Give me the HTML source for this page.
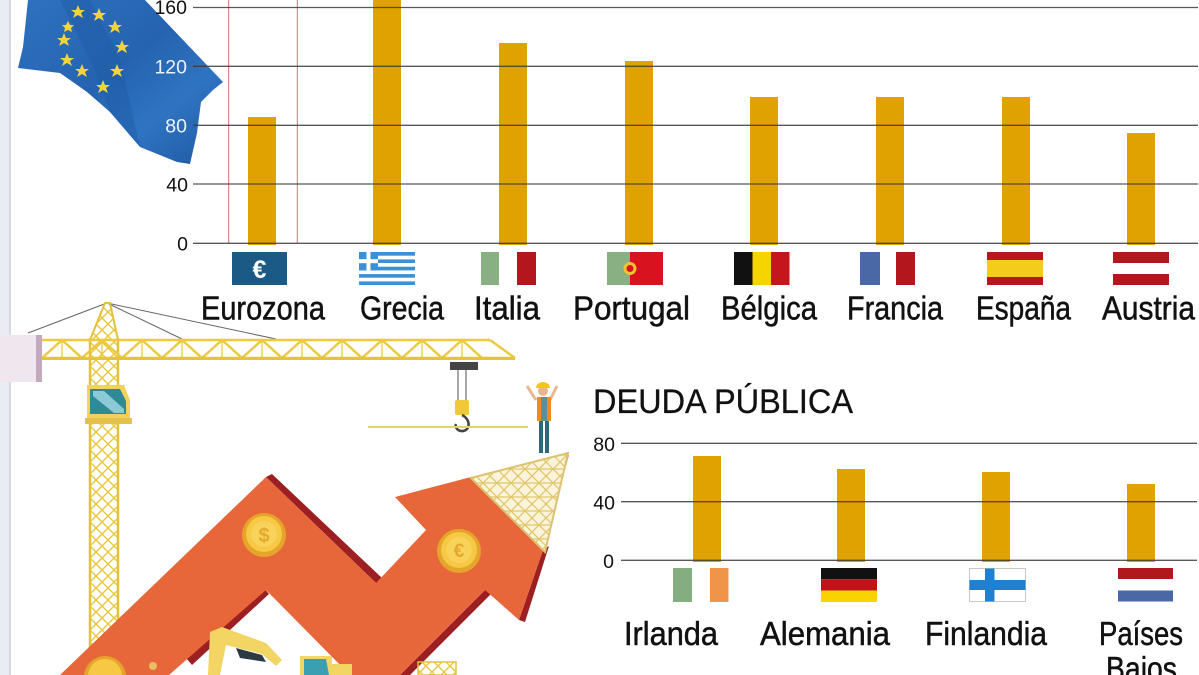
<!DOCTYPE html>
<html>
<head>
<meta charset="utf-8">
<style>
html,body{margin:0;padding:0;background:#fff;}
svg{display:block;}
text{font-family:"Liberation Sans",sans-serif;}
</style>
</head>
<body>
<svg width="1199" height="675" viewBox="0 0 1199 675" xmlns="http://www.w3.org/2000/svg">
<defs>
  <linearGradient id="flagG" x1="0" y1="0" x2="1" y2="1">
    <stop offset="0" stop-color="#2f72c0"/>
    <stop offset="0.45" stop-color="#2563b0"/>
    <stop offset="0.7" stop-color="#2f74c2"/>
    <stop offset="1" stop-color="#1d57a0"/>
  </linearGradient>
  <pattern id="lat" width="12" height="12" patternUnits="userSpaceOnUse">
    <path d="M0 0L12 12M12 0L0 12" stroke="#e8c73c" stroke-width="1.4" fill="none"/>
  </pattern>
  <pattern id="lat2" width="14" height="14" patternUnits="userSpaceOnUse">
    <path d="M0 0L14 14M14 0L0 14M0 7H14" stroke="#e2c66a" stroke-width="1.3" fill="none"/>
  </pattern>
</defs>

<rect x="0" y="0" width="1199" height="675" fill="#fff"/>

<!-- left page edge strip -->
<rect x="0" y="0" width="11" height="675" fill="#e9edf3"/>
<rect x="9" y="0" width="2" height="675" fill="#d5dbe4"/>

<!-- EU flag -->
<polygon points="28,0 145,0 223,82 213,90 201,102 197,133 190,164 177,162 140,147 110,112 87,92 60,73 18,68 23,47 28,0" fill="url(#flagG)"/>
<polygon points="60,0 90,0 120,60 140,147 110,112 95,70" fill="#1f5ba6" opacity="0.45"/>
<g fill="#f4d43c">
  <polygon points="78,5 80,10 85,10 81,13 83,18 78,15 73,18 75,13 71,10 76,10"/>
  <polygon points="99,8 101,13 106,13 102,16 104,21 99,18 94,21 96,16 92,13 97,13"/>
  <polygon points="115,20 117,25 122,25 118,28 120,33 115,30 110,33 112,28 108,25 113,25"/>
  <polygon points="122,40 124,45 129,45 125,48 127,53 122,50 117,53 119,48 115,45 120,45"/>
  <polygon points="117,64 119,69 124,69 120,72 122,77 117,74 112,77 114,72 110,69 115,69"/>
  <polygon points="103,80 105,85 110,85 106,88 108,93 103,90 98,93 100,88 96,85 101,85"/>
  <polygon points="82,64 84,69 89,69 85,72 87,77 82,74 77,77 79,72 75,69 80,69"/>
  <polygon points="67,53 69,58 74,58 70,61 72,66 67,63 62,66 64,61 60,58 65,58"/>
  <polygon points="64,33 66,38 71,38 67,41 69,46 64,43 59,46 61,41 57,38 62,38"/>
  <polygon points="68,21 70,25 74,25 71,28 72,32 68,30 64,32 65,28 62,25 66,25"/>
</g>

<!-- ===== TOP CHART ===== -->
<line x1="228.7" y1="0" x2="228.7" y2="243" stroke="#e06a78" stroke-width="1"/>
<line x1="297.3" y1="0" x2="297.3" y2="243" stroke="#e06a78" stroke-width="1"/>

<g fill="#e0a200">
  <rect x="248" y="117" width="28" height="128"/>
  <rect x="373" y="0" width="28" height="245"/>
  <rect x="499" y="43" width="28" height="202"/>
  <rect x="625" y="61" width="28" height="184"/>
  <rect x="750" y="97" width="28" height="148"/>
  <rect x="876" y="97" width="28" height="148"/>
  <rect x="1002" y="97" width="28" height="148"/>
  <rect x="1127" y="133" width="28" height="112"/>
</g>

<g stroke="#3c3c3c" stroke-width="1.3" opacity="0.85">
  <line x1="193" y1="7.5" x2="1198" y2="7.5"/>
  <line x1="193" y1="66.3" x2="1198" y2="66.3"/>
  <line x1="193" y1="125.3" x2="1198" y2="125.3"/>
  <line x1="193" y1="184" x2="1198" y2="184"/>
  <line x1="193" y1="243.3" x2="1198" y2="243.3"/>
</g>

<g font-size="19.5" text-anchor="end">
  <text x="187" y="14" fill="#111">160</text>
  <text x="187" y="73.5" fill="#eef3fa">120</text>
  <text x="187" y="132.7" fill="#eef3fa">80</text>
  <text x="188" y="191.3" fill="#111">40</text>
  <text x="188" y="250.7" fill="#111">0</text>
</g>

<rect x="232" y="252" width="55" height="33" fill="#1b5a85"/>
<text x="259.5" y="278" font-size="25" font-weight="bold" fill="#fff" text-anchor="middle">€</text>

<g>
  <rect x="359" y="252" width="56" height="33" fill="#3b90d8"/>
  <g fill="#fff">
    <rect x="359" y="255.7" width="56" height="3.7"/>
    <rect x="359" y="263" width="56" height="3.7"/>
    <rect x="359" y="270.4" width="56" height="3.7"/>
    <rect x="359" y="277.7" width="56" height="3.7"/>
  </g>
  <rect x="359" y="252" width="19" height="18.4" fill="#3b90d8"/>
  <rect x="366.5" y="252" width="4" height="18.4" fill="#fff"/>
  <rect x="359" y="259.2" width="19" height="4" fill="#fff"/>
</g>
<rect x="481" y="252" width="18" height="33" fill="#88b083"/>
<rect x="517" y="252" width="19" height="33" fill="#b3161c"/>
<rect x="607" y="252" width="23" height="33" fill="#88b083"/>
<rect x="630" y="252" width="33" height="33" fill="#d8131f"/>
<circle cx="630" cy="268.5" r="6.5" fill="#f1c232"/>
<circle cx="630" cy="268.5" r="3.5" fill="#d8131f"/>
<rect x="734" y="252" width="18.5" height="33" fill="#111"/>
<rect x="752.5" y="252" width="18.5" height="33" fill="#f6d400"/>
<rect x="771" y="252" width="18.5" height="33" fill="#c4161c"/>
<rect x="860" y="252" width="20" height="33" fill="#4a68a6"/>
<rect x="896" y="252" width="19" height="33" fill="#b3161c"/>
<rect x="987" y="252" width="56" height="33" fill="#b8161c"/>
<rect x="987" y="260" width="56" height="17" fill="#f4cc1c"/>
<rect x="1113" y="252" width="56" height="11" fill="#b3161c"/>
<rect x="1113" y="274" width="56" height="11" fill="#b3161c"/>

<g font-size="33" fill="#111" stroke="#111" stroke-width="0.5">
  <text x="201" y="319.5" textLength="124" lengthAdjust="spacingAndGlyphs">Eurozona</text>
  <text x="360" y="319.5" textLength="84" lengthAdjust="spacingAndGlyphs">Grecia</text>
  <text x="474" y="319.5" textLength="66" lengthAdjust="spacingAndGlyphs">Italia</text>
  <text x="573" y="319.5" textLength="117" lengthAdjust="spacingAndGlyphs">Portugal</text>
  <text x="721" y="319.5" textLength="96" lengthAdjust="spacingAndGlyphs">Bélgica</text>
  <text x="847" y="319.5" textLength="96" lengthAdjust="spacingAndGlyphs">Francia</text>
  <text x="976" y="319.5" textLength="95" lengthAdjust="spacingAndGlyphs">España</text>
  <text x="1102" y="319.5" textLength="93" lengthAdjust="spacingAndGlyphs">Austria</text>
</g>

<!-- ===== BOTTOM CHART ===== -->
<text x="593" y="413" font-size="34" fill="#111" stroke="#111" stroke-width="0.3" textLength="260" lengthAdjust="spacingAndGlyphs">DEUDA PÚBLICA</text>

<g fill="#e0a200">
  <rect x="693" y="456" width="28" height="106"/>
  <rect x="837" y="469" width="28" height="93"/>
  <rect x="982" y="472" width="28" height="90"/>
  <rect x="1127" y="484" width="28" height="78"/>
</g>
<g stroke="#3c3c3c" stroke-width="1.3" opacity="0.85">
  <line x1="621" y1="443.3" x2="1197" y2="443.3"/>
  <line x1="621" y1="501.7" x2="1197" y2="501.7"/>
  <line x1="621" y1="560.3" x2="1197" y2="560.3"/>
</g>
<g font-size="19.5" text-anchor="end" fill="#111">
  <text x="615" y="451">80</text>
  <text x="615" y="509.5">40</text>
  <text x="614" y="568">0</text>
</g>

<rect x="673" y="568" width="19" height="34" fill="#85ae80"/>
<rect x="710" y="568" width="18.5" height="34" fill="#ef9448"/>
<rect x="821" y="568" width="56" height="11.3" fill="#111"/>
<rect x="821" y="579.3" width="56" height="11.3" fill="#c0141b"/>
<rect x="821" y="590.6" width="56" height="11.4" fill="#f8d300"/>
<rect x="969.5" y="568.5" width="56" height="33" fill="#fff" stroke="#c8c8c8" stroke-width="1"/>
<rect x="985" y="568.5" width="9.5" height="33" fill="#1f80d0"/>
<rect x="969.5" y="580" width="56" height="10" fill="#1f80d0"/>
<rect x="1118" y="568" width="55" height="11" fill="#b0181e"/>
<rect x="1118" y="590.5" width="55" height="11" fill="#4a68a6"/>

<g font-size="33" fill="#111" stroke="#111" stroke-width="0.5">
  <text x="624" y="645" textLength="94" lengthAdjust="spacingAndGlyphs">Irlanda</text>
  <text x="760" y="645" textLength="130" lengthAdjust="spacingAndGlyphs">Alemania</text>
  <text x="925" y="645" textLength="122" lengthAdjust="spacingAndGlyphs">Finlandia</text>
  <text x="1099" y="645" textLength="84" lengthAdjust="spacingAndGlyphs">Países</text>
  <text x="1106" y="680" textLength="71" lengthAdjust="spacingAndGlyphs">Bajos</text>
</g>

<!-- ===== ILLUSTRATION ===== -->
<g stroke="#666" stroke-width="1" fill="none">
  <line x1="107" y1="303" x2="28" y2="333"/>
  <line x1="107" y1="303" x2="182" y2="339"/>
  <line x1="107" y1="303" x2="276" y2="339"/>
</g>
<rect x="0" y="335" width="40" height="47" fill="#efe7ed"/>
<rect x="36" y="335" width="6" height="47" fill="#c3a9bb"/>

<rect x="90" y="338" width="28" height="320" fill="url(#lat)"/>
<line x1="90" y1="338" x2="90" y2="658" stroke="#e2c23a" stroke-width="2.5"/>
<line x1="118" y1="338" x2="118" y2="658" stroke="#e2c23a" stroke-width="2.5"/>
<polygon points="90,340 105,303 110,303 118,340" fill="url(#lat)" stroke="#e2c23a" stroke-width="2"/>

<g stroke="#ecc93e" stroke-width="2.4" fill="none">
  <line x1="42" y1="340" x2="490" y2="340"/>
  <line x1="42" y1="358" x2="515" y2="358"/>
  <line x1="490" y1="340" x2="515" y2="358"/>
  <path d="M42 358 L62 340 L82 358 L102 340 L122 358 L142 340 L162 358 L182 340 L202 358 L222 340 L242 358 L262 340 L282 358 L302 340 L322 358 L342 340 L362 358 L382 340 L402 358 L422 340 L442 358 L462 340 L482 358"/>
  <path d="M62 340V358M102 340V358M142 340V358M182 340V358M222 340V358M262 340V358M302 340V358M342 340V358M382 340V358M422 340V358M462 340V358" stroke-width="1.3"/>
</g>
<rect x="42" y="357" width="473" height="3" fill="#e6c43a"/>

<polygon points="87,385 124,385 130,400 130,422 87,422" fill="#f1d25c"/>
<polygon points="90,389 120,389 126,401 126,414 90,414" fill="#2e8a97"/>
<polygon points="93,391 104,391 124,409 124,413 114,413 93,396" fill="#8ccad6"/>
<rect x="85" y="418" width="47" height="6" fill="#e5c04a"/>

<rect x="450" y="362" width="28" height="8" fill="#444"/>
<line x1="458" y1="370" x2="458" y2="401" stroke="#888" stroke-width="1.5"/>
<line x1="466" y1="370" x2="466" y2="401" stroke="#888" stroke-width="1.5"/>
<rect x="455" y="400" width="14" height="15" rx="2" fill="#f0c838"/>
<path d="M462 415 C472 420 470 432 461 431 C456 430 455 426 456 424" stroke="#444" stroke-width="2.5" fill="none"/>
<line x1="368" y1="427" x2="528" y2="427" stroke="#e2d274" stroke-width="2"/>

<polygon points="266,477 272,474 383,579 376,583" fill="#9c1f22"/>
<polygon points="264,588 269,594 192,665 186,658" fill="#9c1f22"/>
<polygon points="485,590 491,594 410,675 400,675" fill="#9c1f22"/>
<polygon points="543,550 549,546 525,622 519,620" fill="#9c1f22"/>
<polygon points="60,675 266,477 376,583 426,530 395,497 471,477 569,455 543,550 519,620 485,590 400,675 350,675 266,590 169,675" fill="#e7663a"/>

<polygon points="471,478 568,453 545,552" fill="#fbf4dc"/>
<polygon points="471,478 568,453 545,552" fill="url(#lat2)" stroke="#dcc372" stroke-width="2"/>

<g>
  <circle cx="264" cy="535" r="22" fill="#e4a52a"/>
  <circle cx="264" cy="534" r="18" fill="#f6c843"/>
  <circle cx="264" cy="534" r="13" fill="#f8d25a"/>
  <text x="264" y="542" font-size="20" text-anchor="middle" fill="#e3a92c" font-weight="bold">$</text>
</g>
<g>
  <circle cx="459" cy="551" r="22" fill="#e4a52a"/>
  <circle cx="459" cy="550" r="18" fill="#f6c843"/>
  <circle cx="459" cy="550" r="13" fill="#f8d25a"/>
  <text x="459" y="557" font-size="19" text-anchor="middle" fill="#e3a92c" font-weight="bold">€</text>
</g>
<g>
  <circle cx="105" cy="677" r="21" fill="#e4a52a"/>
  <circle cx="105" cy="676" r="17" fill="#f6c843"/>
</g>

<line x1="536" y1="400" x2="527" y2="386" stroke="#e8b890" stroke-width="3"/>
<line x1="550" y1="400" x2="557" y2="386" stroke="#e8b890" stroke-width="3"/>
<rect x="539" y="420" width="4" height="33" fill="#2a6a7a"/>
<rect x="545" y="420" width="4" height="33" fill="#2a6a7a"/>
<rect x="537" y="397" width="14" height="24" fill="#f08a22"/>
<rect x="541" y="397" width="6" height="24" fill="#5a8fa0"/>
<circle cx="543" cy="391" r="5" fill="#e9b58c"/>
<path d="M536 388 A7 6 0 0 1 550 388 Z" fill="#f5c518"/>

<polygon points="210,632 222,627 266,643 282,660 276,666 262,654 226,645 220,675 208,675" fill="#f2d563"/>
<polygon points="236,648 262,655 266,662 240,658" fill="#2d3a44"/>
<rect x="300" y="656" width="32" height="19" fill="#f2d563"/>
<polygon points="304,659 326,659 329,675 304,675" fill="#3a9fb0"/>
<rect x="332" y="664" width="20" height="11" fill="#f2d563"/>
<rect x="418" y="662" width="38" height="13" fill="url(#lat)" stroke="#e2c23a" stroke-width="1.5"/>
<circle cx="153" cy="666" r="4" fill="#e8c060"/>
</svg>
</body>
</html>
